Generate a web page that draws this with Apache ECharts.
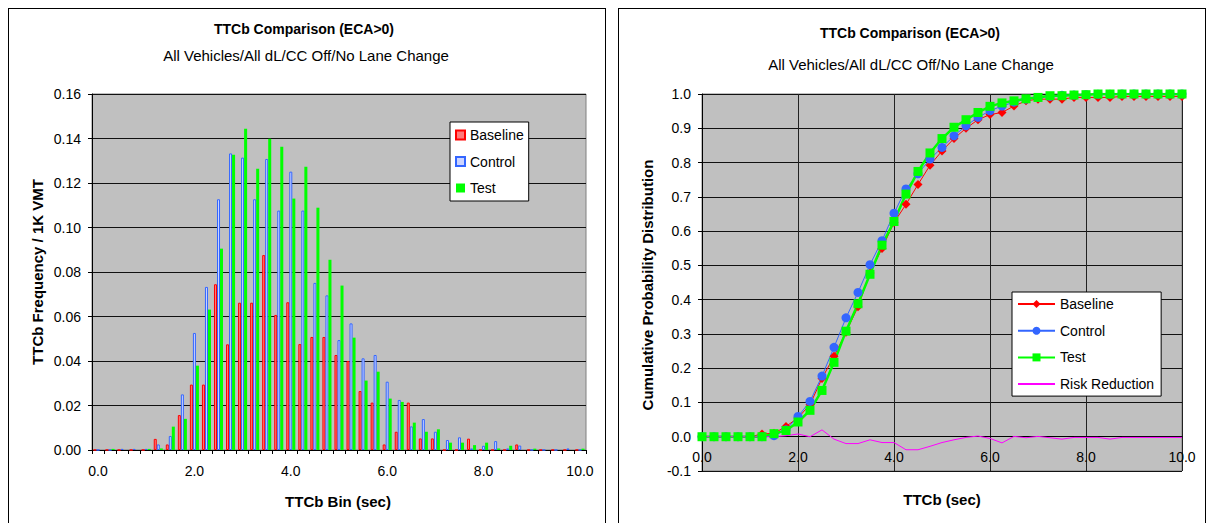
<!DOCTYPE html>
<html>
<head>
<meta charset="utf-8">
<title>TTCb Comparison (ECA&gt;0)</title>
<script src="https://cdn.jsdelivr.net/npm/echarts/dist/echarts.min.js"></script>
<style>
  html, body { margin: 0; padding: 0; background: #fff; width: 1210px; height: 523px; overflow: hidden; }
  .frame { position: absolute; border: 1px solid #000; box-sizing: border-box; }
  .panel { position: absolute; top: 0; height: 523px; }
</style>
</head>
<body>
<div class="frame" style="left:8px;top:8px;width:598px;height:540px"></div>
<div class="frame" style="left:618px;top:8px;width:588px;height:540px"></div>
<div id="left" class="panel" style="left:0;width:612px"></div>
<div id="right" class="panel" style="left:612px;width:598px"></div>
<script>
// TTCb bins (sec), 0.25 s wide
const bins = [0, 0.25, 0.5, 0.75, 1, 1.25, 1.5, 1.75, 2, 2.25, 2.5, 2.75, 3, 3.25, 3.5, 3.75,
  4, 4.25, 4.5, 4.75, 5, 5.25, 5.5, 5.75, 6, 6.25, 6.5, 6.75, 7, 7.25, 7.5, 7.75,
  8, 8.25, 8.5, 8.75, 9, 9.25, 9.5, 9.75, 10];

// TTCb frequency per 1K VMT
const baselineFreq = [0, 0, 0, 0, 0, 0.0050, 0.0025, 0.0157, 0.0294, 0.0294,
  0.0745, 0.0475, 0.0662, 0.0662, 0.0876, 0.0607, 0.0664, 0.0476, 0.0508, 0.0508,
  0.0427, 0.0400, 0.0265, 0.0213, 0.0025, 0.0082, 0.0213, 0.0052, 0.0052, 0,
  0, 0.0051, 0, 0, 0, 0.0025, 0, 0, 0, 0, 0];
const controlFreq = [0, 0, 0.0005, 0.0005, 0.0005, 0.0025, 0.0063, 0.0250, 0.0526, 0.0733,
  0.1127, 0.1333, 0.1314, 0.1127, 0.1308, 0.1076, 0.1251, 0.1076, 0.0751, 0.0695,
  0.0494, 0.0569, 0.0412, 0.0427, 0.0307, 0.0225, 0.0106, 0.0139, 0.0082, 0.0045,
  0.0057, 0.0007, 0.0019, 0.0040, 0.0007, 0.0020, 0, 0, 0, 0.0007, 0];
const testFreq = [0, 0.0005, 0, 0, 0.0005, 0.0007, 0.0105, 0.0140, 0.0379, 0.0631,
  0.0905, 0.1327, 0.1444, 0.1264, 0.1399, 0.1363, 0.1130, 0.1273, 0.1089, 0.0855,
  0.0739, 0.0505, 0.0312, 0.0352, 0.0231, 0.0216, 0.0123, 0.0082, 0.0093, 0.0033,
  0.0033, 0.0022, 0.0033, 0.0007, 0.0019, 0, 0.0006, 0, 0, 0, 0.0006];

// Cumulative probability distribution over the same bins
const baselineCdf = [0, 0, 0, 0, 0, 0.008, 0.010, 0.030, 0.055, 0.094,
  0.170, 0.235, 0.305, 0.379, 0.478, 0.549, 0.625, 0.678, 0.736, 0.792,
  0.834, 0.870, 0.900, 0.925, 0.940, 0.946, 0.965, 0.980, 0.985, 0.985,
  0.985, 0.990, 0.990, 0.990, 0.990, 0.993, 0.993, 0.993, 0.993, 0.993, 0.993];
const controlCdf = [0, 0, 0, 0, 0, 0, 0.003, 0.020, 0.059, 0.103,
  0.177, 0.261, 0.347, 0.421, 0.502, 0.572, 0.652, 0.723, 0.767, 0.810,
  0.844, 0.878, 0.907, 0.932, 0.951, 0.965, 0.976, 0.985, 0.990, 0.993,
  0.996, 0.997, 0.998, 0.999, 0.999, 1, 1, 1, 1, 1, 1];
const testCdf = [0, 0, 0, 0, 0, 0, 0.009, 0.018, 0.043, 0.077,
  0.135, 0.217, 0.308, 0.388, 0.474, 0.559, 0.628, 0.708, 0.774, 0.828,
  0.870, 0.903, 0.925, 0.946, 0.964, 0.974, 0.980, 0.986, 0.990, 0.995,
  0.995, 0.997, 0.998, 1, 1, 1, 1, 1, 1, 1, 1];
const riskReduction = [0, 0, 0, 0, 0, 0, 0, 0.003, 0.008, 0,
  0.020, -0.007, -0.020, -0.020, -0.009, -0.017, -0.017, -0.038, -0.038, -0.028,
  -0.017, -0.009, -0.002, 0.002, -0.005, -0.018, 0.001, -0.003, 0.001, -0.003,
  -0.007, -0.002, -0.002, -0.002, -0.007, -0.002, -0.002, -0.002, -0.002, -0.002, -0.002];

const titleText = 'TTCb Comparison (ECA>0)';
const subtitleText = 'All Vehicles/All dL/CC Off/No Lane Change';

const FONT = '"Liberation Sans", Arial, sans-serif';
const label = (size, bold) => (bold ? 'bold ' : '') + size + 'px ' + FONT;

function textEl(text, x, y, font, rotate) {
  return {
    type: 'text', x: x, y: y, rotation: rotate ? Math.PI / 2 : 0, silent: true,
    style: { text: text, font: font, fill: '#000', align: 'center', verticalAlign: 'middle' }
  };
}

// ---------- Histogram ----------
const leftChart = echarts.init(document.getElementById('left'), null, { renderer: 'svg' });
const barSeries = (name, data, style) => ({
  type: 'bar', name: name, data: data, barGap: '0%', barCategoryGap: '25%',
  itemStyle: style, emphasis: { disabled: true }
});
leftChart.setOption({
  animation: false,
  textStyle: { fontFamily: FONT },
  graphic: [
    textEl(titleText, 304, 29, label(14, true)),
    textEl(subtitleText, 306, 55, label(15, false)),
    textEl('TTCb Bin (sec)', 338, 501, label(15, true)),
    textEl('TTCb Frequency / 1K VMT', 37, 272, label(15, true), true)
  ],
  grid: {
    left: 92, top: 94, width: 494, height: 356,
    show: true, backgroundColor: '#c0c0c0', borderColor: '#808080', borderWidth: 1
  },
  legend: {
    orient: 'vertical', left: 450, top: 122,
    padding: [6, 5, 6, 5], itemGap: 12.5, itemWidth: 9, itemHeight: 9,
    icon: 'rect', backgroundColor: '#fff', borderColor: '#000', borderWidth: 1,
    textStyle: { fontSize: 14, color: '#000', fontFamily: FONT },
    selectedMode: false,
    data: ['Baseline', 'Control', 'Test']
  },
  xAxis: {
    type: 'category', data: bins,
    axisLine: { lineStyle: { color: '#000', width: 1 } },
    axisTick: { show: true, interval: 0, length: 4, lineStyle: { color: '#000' } },
    axisLabel: {
      interval: 7, fontSize: 14, color: '#000', margin: 14, fontFamily: FONT,
      formatter: v => Number(v).toFixed(1)
    },
    splitLine: { show: false }
  },
  yAxis: {
    type: 'value', min: 0, max: 0.16, interval: 0.02,
    axisLine: { show: true, lineStyle: { color: '#000' } },
    axisTick: { show: true, length: 4, lineStyle: { color: '#000' } },
    axisLabel: { fontSize: 14, color: '#000', margin: 11, fontFamily: FONT, formatter: v => v.toFixed(2) },
    splitLine: { lineStyle: { color: '#111', width: 1 } }
  },
  series: [
    barSeries('Baseline', baselineFreq, { color: '#ff7a7a', borderColor: '#ff0000', borderWidth: 1 }),
    barSeries('Control', controlFreq, { color: '#ccd4ff', borderColor: '#3366ff', borderWidth: 1 }),
    barSeries('Test', testFreq, { color: '#00ff00' })
  ]
});

// ---------- Cumulative distribution ----------
const cdfMin = -0.1, cdfMax = 1.0, cdfPlotHeight = 377;
const rightChart = echarts.init(document.getElementById('right'), null, { renderer: 'svg' });
const pairs = vals => bins.map((b, i) => [b, vals[i]]);
const lineSeries = (name, vals, color, symbol, width, size) => ({
  type: 'line', name: name, data: pairs(vals),
  symbol: symbol, symbolSize: size, showSymbol: symbol !== 'none',
  lineStyle: { color: color, width: width },
  itemStyle: { color: color },
  emphasis: { disabled: true }
});
rightChart.setOption({
  animation: false,
  textStyle: { fontFamily: FONT },
  graphic: [
    textEl(titleText, 298, 33, label(14, true)),
    textEl(subtitleText, 299, 64, label(15, false)),
    textEl('TTCb (sec)', 330, 499, label(15, true)),
    textEl('Cumulative Probability Distribution', 35, 285, label(15, true), true)
  ],
  grid: {
    left: 90, top: 94, width: 480, height: cdfPlotHeight,
    show: true, backgroundColor: '#c0c0c0', borderColor: '#808080', borderWidth: 1
  },
  legend: {
    orient: 'vertical', left: 400, top: 292,
    padding: [5, 7, 5, 5], itemGap: 12.7, itemWidth: 37, itemHeight: 10,
    backgroundColor: '#fff', borderColor: '#000', borderWidth: 1,
    textStyle: { fontSize: 14, color: '#000', fontFamily: FONT },
    selectedMode: false,
    data: ['Baseline', 'Control', 'Test', { name: 'Risk Reduction', itemStyle: { opacity: 0 } }]
  },
  xAxis: {
    type: 'value', min: 0, max: 10, interval: 2,
    // the category axis crosses the value axis at 0
    offset: -cdfPlotHeight * (0 - cdfMin) / (cdfMax - cdfMin),
    axisLine: { onZero: false, lineStyle: { color: '#000' } },
    axisTick: { show: false },
    axisLabel: { fontSize: 14, color: '#000', margin: 13, fontFamily: FONT, formatter: v => v.toFixed(1) },
    splitLine: { show: true, lineStyle: { color: '#222', width: 1 } }
  },
  yAxis: {
    type: 'value', min: cdfMin, max: cdfMax, interval: 0.1,
    axisLine: { show: true, lineStyle: { color: '#000' } },
    axisTick: { show: true, length: 4, lineStyle: { color: '#000' } },
    axisLabel: { fontSize: 14, color: '#000', margin: 11, fontFamily: FONT, formatter: v => v.toFixed(1) },
    splitLine: { lineStyle: { color: '#111', width: 1 } }
  },
  series: [
    lineSeries('Baseline', baselineCdf, '#ff0000', 'diamond', 1, 9),
    lineSeries('Control', controlCdf, '#3366ff', 'circle', 1, 9),
    lineSeries('Test', testCdf, '#00ff00', 'rect', 2.5, 9),
    lineSeries('Risk Reduction', riskReduction, '#ff00ff', 'none', 1, 0)
  ]
});
</script>
</body>
</html>
